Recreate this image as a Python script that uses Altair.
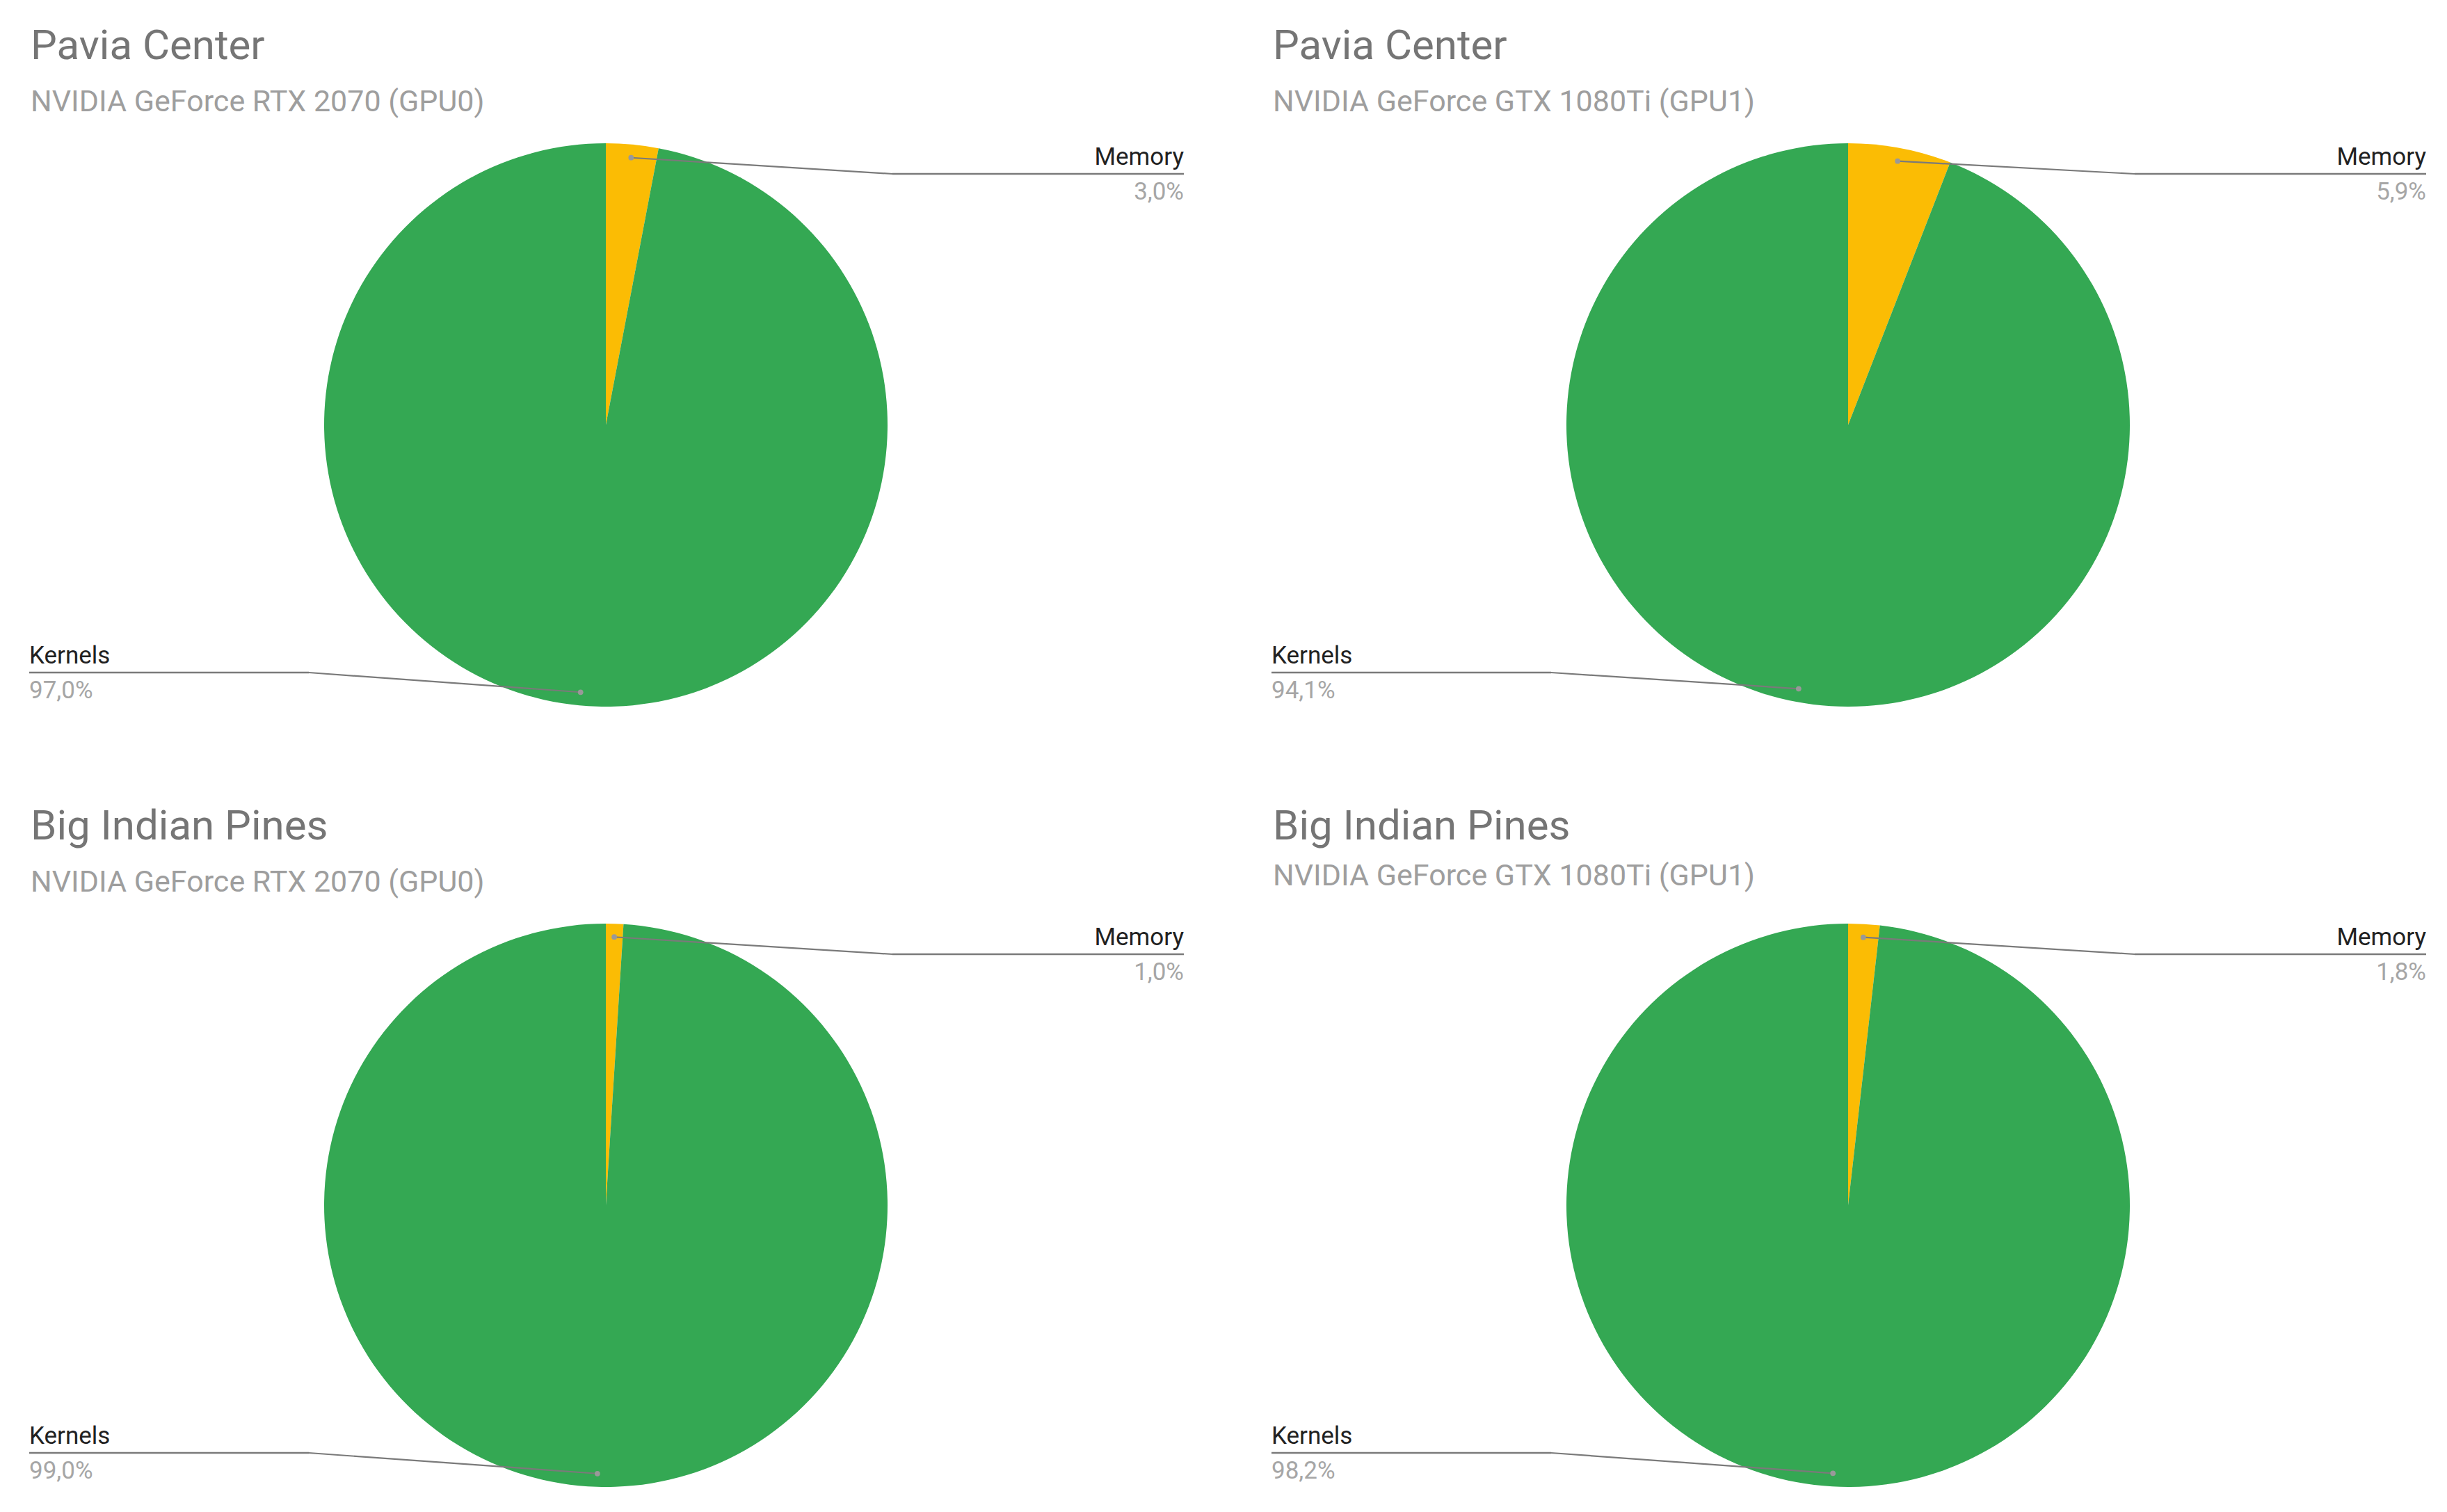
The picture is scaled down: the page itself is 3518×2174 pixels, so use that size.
import altair as alt
import pandas as pd

# ---- data ----
titles = ["Pavia Center", "Pavia Center", "Big Indian Pines", "Big Indian Pines"]
subtitles = [
    "NVIDIA GeForce RTX 2070 (GPU0)",
    "NVIDIA GeForce GTX 1080Ti (GPU1)",
    "NVIDIA GeForce RTX 2070 (GPU0)",
    "NVIDIA GeForce GTX 1080Ti (GPU1)",
]
categories = ["Memory", "Kernels"]
memory_pct = [3.0, 5.9, 1.0, 1.8]
kernels_pct = [97.0, 94.1, 99.0, 98.2]

rows = []
for p in range(4):
    for k, (cat, vals) in enumerate(zip(categories, [memory_pct, kernels_pct])):
        rows.append({"panel": p, "category": cat, "value": vals[p], "ord": k})
df = pd.DataFrame(rows)

# ---- layout / style ----
FONT = "Roboto"
W, H = 1716, 1030
CX, CY, R = 863, 603, 405
GREEN, YELLOW = "#34A853", "#FBBC04"
LINE = "#7a7a7a"
SUB_DY = [0, 0, 0, -9]


def panel(i):
    base = alt.Chart(df).transform_filter(alt.datum.panel == i)

    arcs = base.mark_arc(radius=R, strokeWidth=0).encode(
        theta=alt.Theta("value:Q", stack=True),
        color=alt.Color(
            "category:N",
            scale=alt.Scale(domain=categories, range=[YELLOW, GREEN]),
            legend=None,
        ),
        order=alt.Order("ord:Q"),
        x=alt.value(CX),
        y=alt.value(CY),
    )

    geo = (
        base.transform_joinaggregate(total="sum(value)")
        .transform_window(cum="sum(value)", sort=[alt.SortField("ord")], frame=[None, 0])
        .transform_calculate(mid="(datum.cum - datum.value/2) / datum.total * 2 * PI")
        .transform_calculate(
            right="datum.mid < PI",
            px=f"{CX} + 0.953 * {R} * sin(datum.mid)",
            py=f"{CY} - 0.953 * {R} * cos(datum.mid)",
        )
        .transform_calculate(
            ly=f"datum.right ? {CY - 361} : {CY + 356}",
            ex=f"datum.right ? {CX + 412} : {CX - 427}",
            tx=f"datum.right ? {CX + 831} : {CX - 829}",
            pct="replace(format(datum.value, '.1f'), '.', ',') + '%'",
        )
        .transform_calculate(lab_y="datum.ly - 13", pct_y="datum.ly + 37")
    )

    xs = lambda f: alt.X(f, scale=None, axis=None)
    ys = lambda f: alt.Y(f, scale=None, axis=None)

    slant = geo.mark_rule(color=LINE, strokeWidth=2.2).encode(
        x=xs("px:Q"), y=ys("py:Q"), x2="ex:Q", y2="ly:Q"
    )
    horiz = geo.mark_rule(color=LINE, strokeWidth=2.4).encode(
        x=xs("ex:Q"), x2="tx:Q", y=ys("ly:Q")
    )
    dot = geo.mark_circle(size=60, color="#999999", opacity=1).encode(
        x=xs("px:Q"), y=ys("py:Q")
    )

    layers = [arcs, slant, horiz, dot]
    for side, align in [("datum.right", "right"), ("!datum.right", "left")]:
        g = geo.transform_filter(side)
        layers.append(
            g.mark_text(align=align, baseline="alphabetic", font=FONT, fontSize=35, color="#212121").encode(
                x=xs("tx:Q"), y=ys("lab_y:Q"), text="category:N"
            )
        )
        layers.append(
            g.mark_text(align=align, baseline="alphabetic", font=FONT, fontSize=35, color="#a6a6a6").encode(
                x=xs("tx:Q"), y=ys("pct_y:Q"), text="pct:N"
            )
        )

    tdf = pd.DataFrame({"title": [titles[i]], "sub": [subtitles[i]]})
    tchart = alt.Chart(tdf).mark_text(
        align="left", baseline="alphabetic", font=FONT, fontSize=60, color="#757575"
    ).encode(text="title:N", x=alt.value(36), y=alt.value(77))
    schart = alt.Chart(tdf).mark_text(
        align="left", baseline="alphabetic", font=FONT, fontSize=43, color="#9e9e9e"
    ).encode(text="sub:N", x=alt.value(36), y=alt.value(152 + SUB_DY[i]))
    layers += [tchart, schart]

    return alt.layer(*layers).properties(width=W, height=H)


chart = (
    alt.vconcat(
        alt.hconcat(panel(0), panel(1), spacing=70),
        alt.hconcat(panel(2), panel(3), spacing=70),
        spacing=92,
    )
    .properties(padding=0, background="white")
    .configure_view(stroke=None)
)

chart.save("out.html", embed_options={"renderer": "svg", "actions": False})
